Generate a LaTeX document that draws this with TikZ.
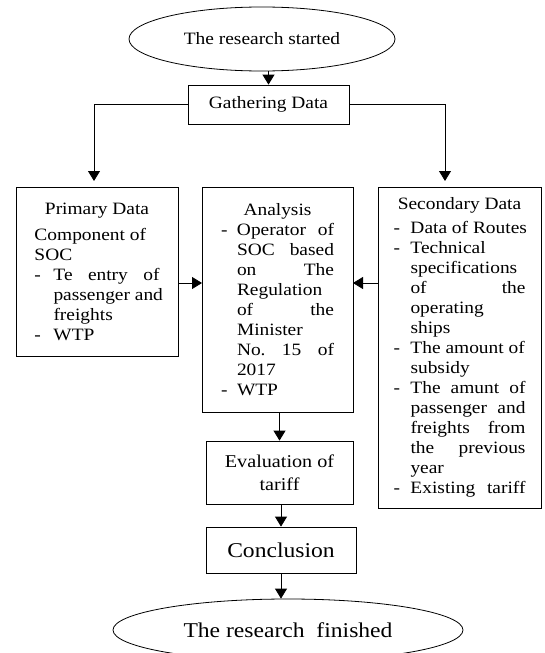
\documentclass[tikz,border=0pt]{standalone}
\usepackage{fontspec}
\setmainfont{Liberation Serif}[FakeStretch=1.12]
\usetikzlibrary{shapes.geometric,arrows.meta}
\newcommand\Bul[2]{\mbox{\makebox[#1][l]{-}#2}}
\newcommand\Hng[2]{\mbox{\hspace*{#1}#2}}
\newcommand\Nsp{\spaceskip=0pt\xspaceskip=0pt\relax}
\tikzset{
  box/.style={draw, line width=0.6pt, inner sep=0pt, align=center},
  oval/.style={draw, ellipse, line width=0.6pt, inner sep=0pt},
  arr/.style={-{Triangle[length=7.5pt,width=9pt]}, line width=0.6pt},
  bodytext/.style={font=\fontsize{13pt}{15pt}\selectfont}
}
\begin{document}
\begin{tikzpicture}[x=0.75pt,y=-0.75pt]
\useasboundingbox (0,0) rectangle (544,653);
\clip (0,0) rectangle (544,653);

\node[oval, minimum width=199.5pt, minimum height=48pt, bodytext] (start) at (262,39) {\Nsp The research started};
\node[box, minimum width=120.75pt, minimum height=29.25pt, bodytext] (gather) at (268.5,104.5) {\Nsp Gathering Data};

\node[box, minimum width=121.5pt, minimum height=126.75pt, text width=93.75pt, align=left, bodytext] (primary) at (97,271.5) {\Nsp
\makebox[93.75pt][c]{Primary Data}\\[4.5pt]
\mbox{Component of}\\
\mbox{SOC}\\
\Bul{14.25pt}{\makebox[79.5pt][s]{Te\hfill entry\hfill of}}\\
\Hng{14.25pt}{passenger and}\\
\Hng{14.25pt}{freights}\\
\Bul{14.25pt}{WTP}};

\node[box, minimum width=113.25pt, minimum height=168.75pt, text width=84.75pt, align=left, bodytext] (analysis) at (277.5,299.5) {\Nsp
\makebox[84.75pt][c]{Analysis}\\
\Bul{12pt}{\makebox[72.75pt][s]{Operator\hfill of}}\\
\Hng{12pt}{\makebox[72.75pt][s]{SOC\hfill based}}\\
\Hng{12pt}{\makebox[72.75pt][s]{on\hfill The}}\\
\Hng{12pt}{Regulation}\\
\Hng{12pt}{\makebox[72.75pt][s]{of\hfill the}}\\
\Hng{12pt}{Minister}\\
\Hng{12pt}{\makebox[72.75pt][s]{No.\hfill 15\hfill of}}\\
\Hng{12pt}{2017}\\
\Bul{12pt}{WTP}};

\node[box, minimum width=122.25pt, minimum height=240.75pt, text width=99pt, align=left, bodytext] (secondary) at (459.5,347.5) {\Nsp
\makebox[99pt][c]{Secondary Data}\\[3pt]
\Bul{12.75pt}{Data of Routes}\\
\Bul{12.75pt}{Technical}\\
\Hng{12.75pt}{specifications}\\
\Hng{12.75pt}{\makebox[86.25pt][s]{of\hfill the}}\\
\Hng{12.75pt}{operating}\\
\Hng{12.75pt}{ships}\\
\Bul{12.75pt}{The amount of}\\
\Hng{12.75pt}{subsidy}\\
\Bul{12.75pt}{\makebox[86.25pt][s]{The\hfill amunt\hfill of}}\\
\Hng{12.75pt}{\makebox[86.25pt][s]{passenger\hfill and}}\\
\Hng{12.75pt}{\makebox[86.25pt][s]{freights\hfill from}}\\
\Hng{12.75pt}{\makebox[86.25pt][s]{the\hfill previous}}\\
\Hng{12.75pt}{year}\\
\Bul{12.75pt}{\makebox[86.25pt][s]{Existing\hfill tariff}}};

\node[box, minimum width=110.25pt, minimum height=47.25pt, font=\fontsize{13.5pt}{17pt}\selectfont] (eval) at (279.5,472.5) {\Nsp Evaluation of\\tariff};
\node[box, minimum width=112.5pt, minimum height=34.5pt, font=\fontsize{15.8pt}{18pt}\selectfont] (concl) at (281,550) {\Nsp Conclusion};
\node[oval, minimum width=262.5pt, minimum height=46.5pt, font=\fontsize{15.8pt}{18pt}\selectfont] (finish) at (288,630) {\Nsp The research\ \ finished};

\coordinate (pin) at (94,187);
\coordinate (sin) at (445,187);
\coordinate (pa) at (178,283);
\coordinate (aa) at (202,283);
\coordinate (sa) at (378,283);
\coordinate (ab) at (353,283);

\draw[arr] (gather.north |- start.south) -- (gather.north);
\draw[arr, shorten >=4.5pt] (gather.west) -| (pin);
\draw[arr, shorten >=4.5pt] (gather.east) -| (sin);
\draw[arr] (pa) -- (aa);
\draw[arr] (sa) -- (ab);
\draw[arr] (eval.north |- analysis.south) -- (eval.north);
\draw[arr] (concl.north |- eval.south) -- (concl.north);
\draw[arr] (concl.south) -- (concl.south |- finish.north);
\end{tikzpicture}
\end{document}
